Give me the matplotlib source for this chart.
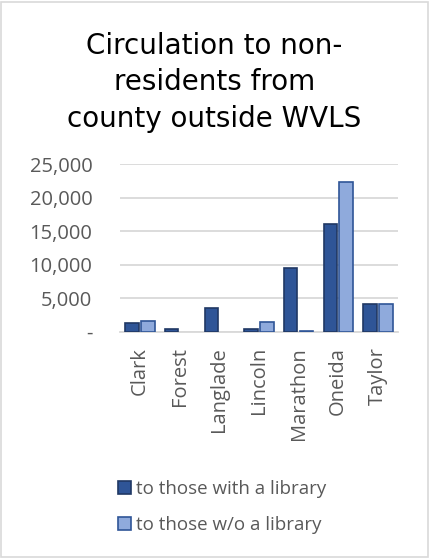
import matplotlib.pyplot as plt
from matplotlib.patches import Rectangle
from matplotlib.ticker import FuncFormatter
import numpy as np

counties = ["Clark", "Forest", "Langlade", "Lincoln", "Marathon", "Oneida", "Taylor"]
with_library = [1350, 450, 3500, 350, 9450, 16050, 4200]
without_library = [1650, 0, 0, 1450, 120, 22300, 4200]

dark = "#2F5597"
light = "#8FAADC"
grey = "#595959"
body_font = "Open Sans"

fig = plt.figure(figsize=(4.29, 5.59), dpi=100)
ax = fig.add_axes([0.28, 0.4066, 0.647, 0.30])

x = np.arange(len(counties))
w = 0.34
lw1 = [1.2 if v > 0 else 0 for v in with_library]
lw2 = [1.2 if v > 0 else 0 for v in without_library]
ax.bar(x - w / 2 - 0.03, with_library, w, color=dark, edgecolor="#203864", linewidth=lw1,
       label="to those with a library", zorder=3)
ax.bar(x + w / 2 + 0.03, without_library, w, color=light, edgecolor=dark, linewidth=lw2,
       label="to those w/o a library", zorder=3)

ax.set_xlim(-0.5, len(counties) - 0.5)
ax.set_ylim(0, 25000)
ax.set_yticks(np.arange(0, 25001, 5000))
ax.yaxis.set_major_formatter(FuncFormatter(lambda v, p: "-" if v == 0 else f"{v:,.0f}"))
ax.grid(axis="y", color="#D9D9D9", linewidth=1.3, zorder=0)
for s in ["top", "right", "left"]:
    ax.spines[s].set_visible(False)
ax.spines["bottom"].set_color("#D9D9D9")
ax.spines["bottom"].set_linewidth(1.3)
ax.set_xticks(x)
ax.set_xticklabels(counties, rotation=90)
ax.tick_params(axis="both", length=0, colors=grey, labelsize=14.5)
ax.tick_params(axis="y", pad=20)
ax.tick_params(axis="x", pad=11)
for lab in ax.get_xticklabels() + ax.get_yticklabels():
    lab.set_fontfamily(body_font)

fig.text(0.5, 0.853, "Circulation to non-\nresidents from\ncounty outside WVLS",
         ha="center", va="center", fontsize=20, color="black", linespacing=1.38)

fig.legend(loc="lower left", bbox_to_anchor=(0.235, 0.015), frameon=False,
           prop={"family": body_font, "size": 13.5},
           labelcolor=grey, handlelength=0.7, handleheight=0.7, handletextpad=0.25,
           labelspacing=0.95)

fig.patches.append(Rectangle((0.003, 0.003), 0.994, 0.994, transform=fig.transFigure,
                             fill=False, edgecolor="#D9D9D9", linewidth=1.2))

fig.savefig("out.png", dpi=100)
